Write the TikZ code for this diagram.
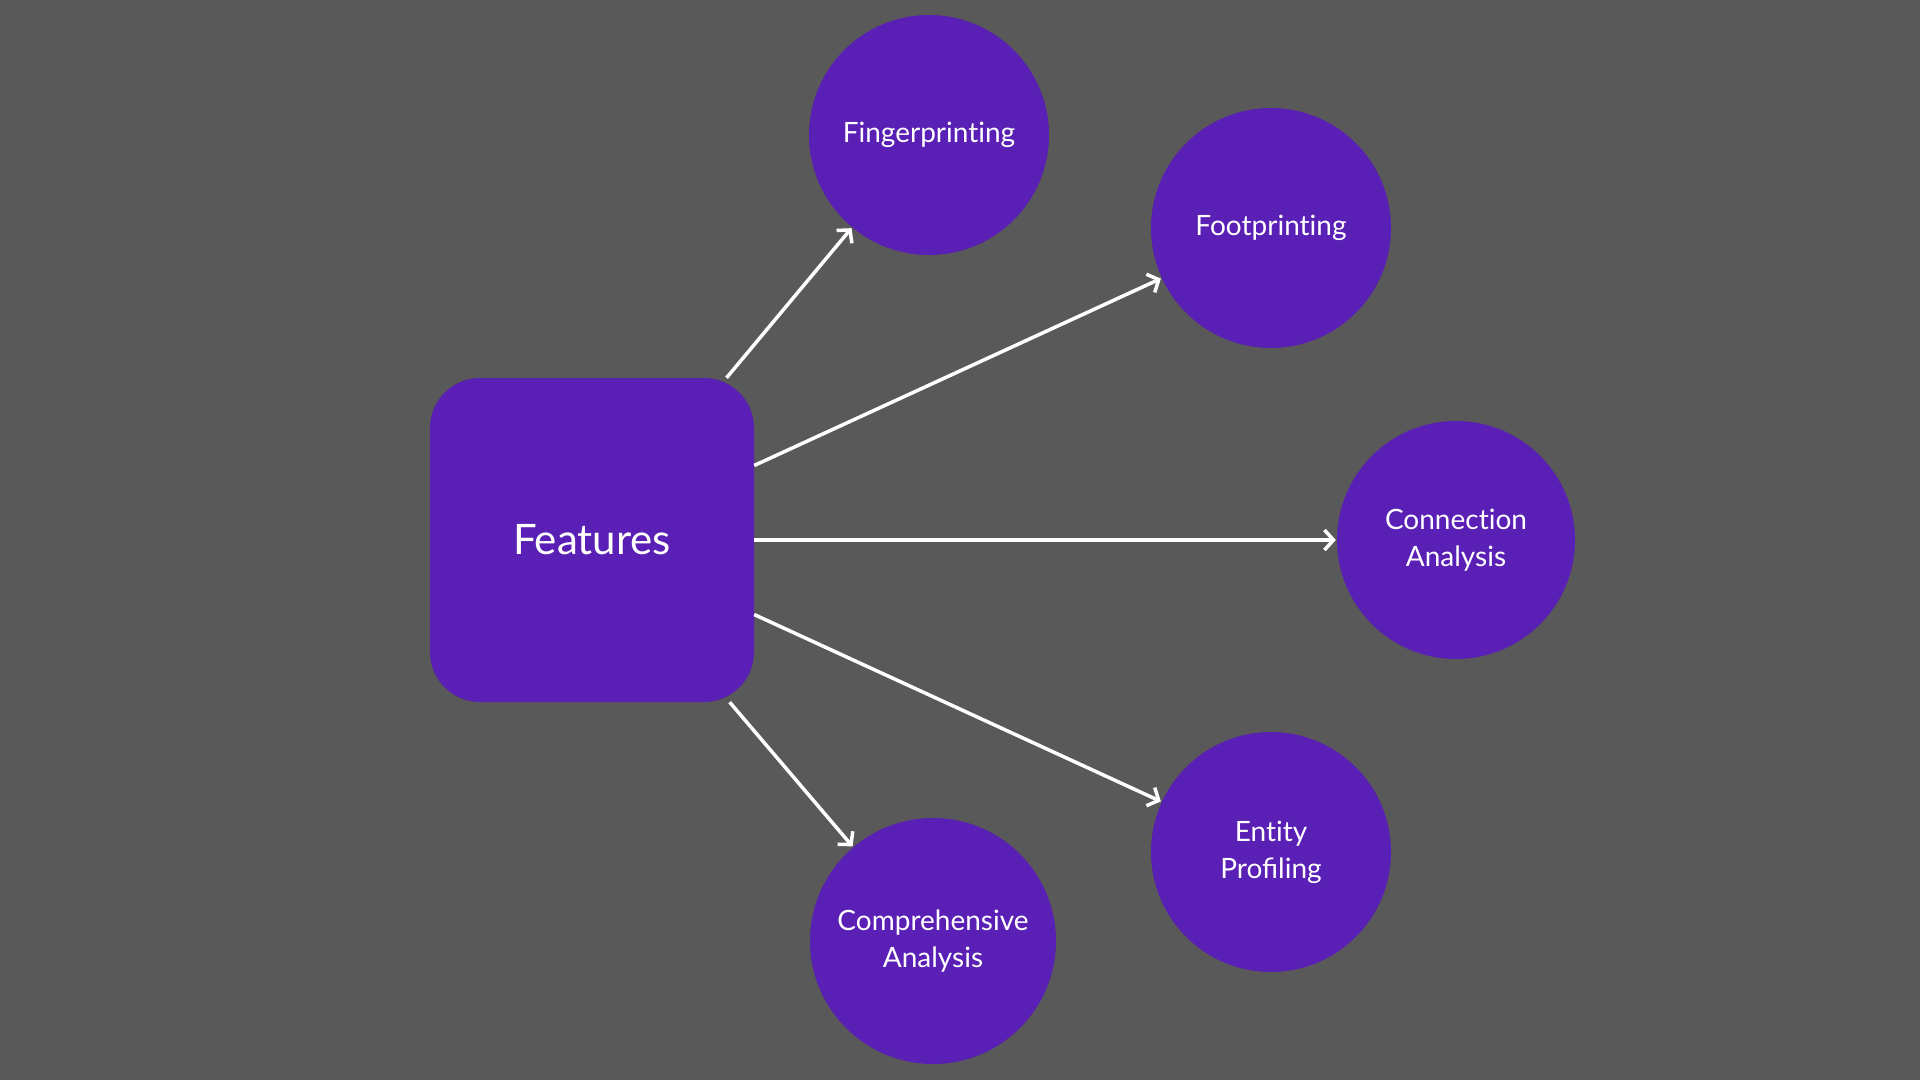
\documentclass[tikz,border=0pt]{standalone}
\usepackage{fontspec}
\setmainfont{Lato}
\usetikzlibrary{arrows.meta}
\definecolor{bggray}{HTML}{595959}
\definecolor{featpurple}{HTML}{5A1FB4}
\newcommand{\nl}{\kern0pt }
\tikzset{
  feat/.style={circle, fill=featpurple, minimum size=240pt, inner sep=0pt, text=white, align=center, font=\fontsize{28}{37}\selectfont},
  mainbox/.style={rectangle, rounded corners=50pt, fill=featpurple, minimum width=324pt, minimum height=324pt, inner sep=0pt, text=white, font=\fontsize{42}{50}\selectfont},
  link/.style={draw=white, line width=3.5pt, -{Straight Barb[length=9pt,width=20pt,line width=3.5pt]}, shorten >=1pt}
}
\begin{document}
\begin{tikzpicture}[x=1pt,y=-1pt]
\fill[bggray] (0,0) rectangle (1920,1080);
\useasboundingbox (0,0) rectangle (1920,1080);
\node[mainbox] (features) at (592,540) {Features};
\node[feat] (fing) at (929,135) {Fingerprint\nl ing};
\node[feat] (foot) at (1271,228) {Footprint\nl ing};
\node[feat, minimum size=238pt] (conn) at (1456,540) {Connect\nl ion\\Analysis};
\node[feat] (ent) at (1271,852) {Ent\nl ity\\Profiling};
\node[feat, minimum size=246pt] (comp) at (933,941) {Comprehensive\\Analysis};
\draw[link] (features) -- (fing);
\draw[link] (features) -- (foot);
\draw[link] (features) -- (conn);
\draw[link] (features) -- (ent);
\draw[link] (features) -- (comp);
\end{tikzpicture}
\end{document}
